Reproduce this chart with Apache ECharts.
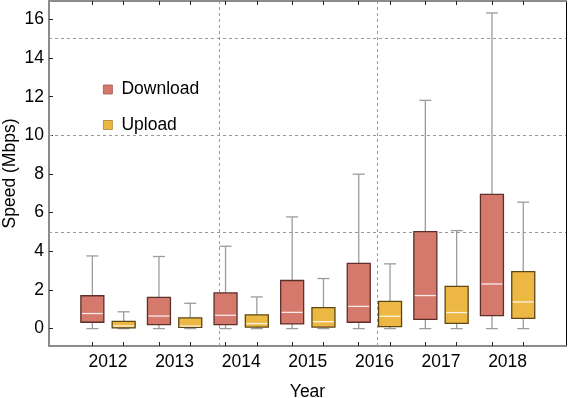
<!DOCTYPE html>
<html lang="en">

<head>
	<meta charset="UTF-8">
	<script src="https://cdn.jsdelivr.net/npm/echarts@6.0.0/dist/echarts.min.js"></script>
	<title>Speed by year</title>
</head>

<body style="margin:0">
	<div id="main" style="width: 568px;height:398px;"></div>

	<script>
		var years = [2012, 2013, 2014, 2015, 2016, 2017, 2018];
		// [min, q1, median, q3, max] per year, Mbps
		var downloadStats = [
			[0, 0.33, 0.78, 1.70, 3.76],
			[0, 0.21, 0.65, 1.62, 3.73],
			[0, 0.21, 0.69, 1.85, 4.26],
			[0, 0.24, 0.84, 2.49, 5.78],
			[0, 0.33, 1.15, 3.38, 7.99],
			[0, 0.48, 1.71, 5.02, 11.81],
			[0, 0.67, 2.31, 6.94, 16.33]
		];
		var uploadStats = [
			[0, 0.04, 0.14, 0.37, 0.87],
			[0, 0.06, 0.13, 0.56, 1.31],
			[0, 0.08, 0.26, 0.71, 1.64],
			[0, 0.08, 0.36, 1.09, 2.59],
			[0, 0.10, 0.64, 1.41, 3.35],
			[0, 0.27, 0.83, 2.19, 5.07],
			[0, 0.53, 1.38, 2.95, 6.54]
		];
		var yTicks = [0, 2, 4, 6, 8, 10, 12, 14, 16];
		var hGridLines = [5, 10, 15];
		var vGridLines = [2013.667, 2016.04];

		var FONT = '"Liberation Sans", Arial, sans-serif';
		var OFFSET = 0.235;
		var dlColor = '#d4796c', dlEdge = '#5e302a';
		var ulColor = '#ecb743', ulEdge = '#5c4717';

		var boxTicks = [];
		years.forEach(function (y) { boxTicks.push(y - OFFSET, y + OFFSET); });

		function toRows(stats) {
			return years.map(function (y, i) { return [y].concat(stats[i]); });
		}

		function boxRenderer(offset, fill, edge) {
			return function (params, api) {
				var x = api.value(0) + offset;
				var pMin = api.coord([x, api.value(1)]);
				var pQ1 = api.coord([x, api.value(2)]);
				var pMed = api.coord([x, api.value(3)]);
				var pQ3 = api.coord([x, api.value(4)]);
				var pMax = api.coord([x, api.value(5)]);
				var cx = pMin[0], hw = 11.5, cw = 6;
				var whisker = { stroke: '#9c9c9c', lineWidth: 1.3 };
				return {
					type: 'group',
					children: [
						{ type: 'line', shape: { x1: cx, y1: pMax[1], x2: cx, y2: pQ3[1] }, style: whisker },
						{ type: 'line', shape: { x1: cx, y1: pQ1[1], x2: cx, y2: pMin[1] }, style: whisker },
						{ type: 'line', shape: { x1: cx - cw, y1: pMax[1], x2: cx + cw, y2: pMax[1] }, style: whisker },
						{ type: 'line', shape: { x1: cx - cw, y1: pMin[1], x2: cx + cw, y2: pMin[1] }, style: whisker },
						{
							type: 'rect',
							shape: { x: cx - hw, y: pQ3[1], width: 2 * hw, height: pQ1[1] - pQ3[1] },
							style: { fill: fill, stroke: edge, lineWidth: 1.3 }
						},
						{
							type: 'line',
							shape: { x1: cx - hw + 1, y1: pMed[1], x2: cx + hw - 1, y2: pMed[1] },
							style: { stroke: 'rgba(255,255,255,0.85)', lineWidth: 1.3 }
						}
					]
				};
			};
		}

		var chart = echarts.init(document.getElementById('main'));
		var gridDash = { color: '#9a9a9a', width: 1, type: [3, 3] };
		var frameGray = { color: '#8c8c8c', width: 2 };

		var option = {
			animation: false,
			textStyle: { fontFamily: FONT },
			grid: { left: 49, right: 2, top: 1, bottom: 52, outerBoundsMode: 'none' },
			legend: {
				orient: 'vertical',
				left: 98,
				top: 75.5,
				itemWidth: 9,
				itemHeight: 9,
				itemGap: 17.5,
				textStyle: { fontSize: 17.5, lineHeight: 18, color: '#000', fontFamily: FONT, padding: [0, 0, 0, 4] },
				data: [
					{ name: 'Download', icon: 'rect', itemStyle: { color: dlColor, borderColor: '#a0574c', borderWidth: 0.8 } },
					{ name: 'Upload', icon: 'rect', itemStyle: { color: ulColor, borderColor: '#a8812a', borderWidth: 0.8 } }
				]
			},
			xAxis: [
				{
					type: 'value',
					min: 2011.114,
					max: 2018.877,
					name: 'Year',
					nameLocation: 'middle',
					nameGap: 37,
					nameTextStyle: { fontSize: 17.5, color: '#000', fontFamily: FONT },
					axisLine: { show: true, onZero: false, lineStyle: frameGray },
					axisTick: { show: true, inside: true, length: 4, customValues: boxTicks, lineStyle: { color: '#222', width: 1 } },
					axisLabel: {
						customValues: years, fontSize: 17.5, color: '#000', margin: 7, fontFamily: FONT,
						formatter: function (v) { return String(v); }
					},
					splitLine: { show: false }
				},
				{
					type: 'value',
					position: 'top',
					min: 2011.114,
					max: 2018.877,
					axisLine: { show: true, onZero: false, lineStyle: frameGray },
					axisTick: { show: true, inside: true, length: 4, customValues: boxTicks, lineStyle: { color: '#222', width: 1 } },
					axisLabel: { show: false },
					splitLine: { show: false }
				}
			],
			yAxis: [
				{
					type: 'value',
					min: -0.9,
					max: 16.95,
					name: 'Speed (Mbps)',
					nameLocation: 'middle',
					nameRotate: 90,
					nameGap: 30,
					nameMoveOverlap: false,
					nameTextStyle: { fontSize: 17.5, color: '#000', fontFamily: FONT },
					axisLine: { show: true, onZero: false, lineStyle: frameGray },
					axisTick: { show: true, inside: true, length: 4, customValues: yTicks, lineStyle: { color: '#222', width: 1 } },
					axisLabel: { customValues: yTicks, fontSize: 17.5, color: '#000', margin: 5, fontFamily: FONT },
					splitLine: { show: false }
				},
				{
					type: 'value',
					position: 'right',
					min: -0.9,
					max: 16.95,
					axisLine: { show: true, onZero: false, lineStyle: { color: '#000', width: 1 } },
					axisTick: { show: false },
					axisLabel: { show: false },
					splitLine: { show: false }
				}
			],
			series: [
				{
					name: 'Download',
					type: 'custom',
					z: 3,
					itemStyle: { color: dlColor },
					renderItem: boxRenderer(-OFFSET, dlColor, dlEdge),
					encode: { x: 0, y: [1, 2, 3, 4, 5] },
					data: toRows(downloadStats),
					markLine: {
						silent: true,
						z: 1,
						symbol: 'none',
						label: { show: false },
						lineStyle: gridDash,
						data: hGridLines.map(function (v) { return { yAxis: v }; })
							.concat(vGridLines.map(function (v) { return { xAxis: v }; }))
					}
				},
				{
					name: 'Upload',
					type: 'custom',
					z: 3,
					itemStyle: { color: ulColor },
					renderItem: boxRenderer(OFFSET, ulColor, ulEdge),
					encode: { x: 0, y: [1, 2, 3, 4, 5] },
					data: toRows(uploadStats)
				}
			]
		};
		chart.setOption(option);
	</script>
</body>

</html>
